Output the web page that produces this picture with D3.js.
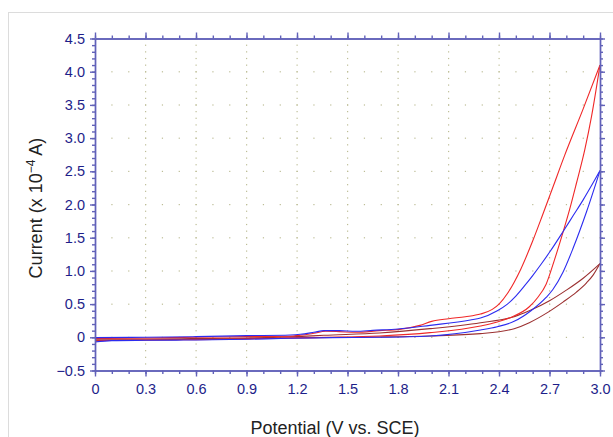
<!DOCTYPE html>
<html>
<head>
<meta charset="utf-8">
<script src="https://cdn.jsdelivr.net/npm/d3@7"></script>
<style>
  body { margin: 0; background: #fff; }
  text { font-family: "Liberation Sans", Arial, sans-serif; }
</style>
</head>
<body>
<div id="chart"></div>
<script>
// tick values and labels
const xTicks = [0, 0.3, 0.6, 0.9, 1.2, 1.5, 1.8, 2.1, 2.4, 2.7, 3.0];
const xTickLabels = ["0", "0.3", "0.6", "0.9", "1.2", "1.5", "1.8", "2.1", "2.4", "2.7", "3.0"];
const yTicks = [-0.5, 0, 0.5, 1.0, 1.5, 2.0, 2.5, 3.0, 3.5, 4.0, 4.5];
const yTickLabels = ["\u22120.5", "0", "0.5", "1.0", "1.5", "2.0", "2.5", "3.0", "3.5", "4.0", "4.5"];

// [potential V, current x1e-4 A]
const redForward = [[0, -0.06], [0.1, -0.045], [0.3, -0.04], [0.6, -0.035], [0.9, -0.025], [1.15, -0.01], [1.4, 0.0],
  [1.69, 0.02], [1.99, 0.07], [2.29, 0.17], [2.39, 0.23], [2.47, 0.30], [2.58, 0.46], [2.63, 0.60], [2.68, 0.80],
  [2.73, 1.17], [2.78, 1.58], [2.82, 1.93], [2.86, 2.32], [2.91, 2.83], [2.95, 3.33], [3.0, 4.1]];
const redReverse = [[0, -0.02], [0.3, -0.01], [0.6, 0.0], [0.9, 0.01], [1.15, 0.015], [1.22, 0.03], [1.3, 0.06],
  [1.37, 0.09], [1.45, 0.085], [1.55, 0.075], [1.69, 0.10], [1.81, 0.12], [1.93, 0.18], [2.0, 0.24], [2.1, 0.28],
  [2.2, 0.31], [2.29, 0.35], [2.36, 0.42], [2.4, 0.5], [2.45, 0.66], [2.53, 1.03], [2.6, 1.45], [2.66, 1.85],
  [2.72, 2.26], [2.79, 2.74], [2.9, 3.44], [3.0, 4.1]];
const blueForward = [[0, -0.07], [0.1, -0.05], [0.3, -0.045], [0.6, -0.04], [0.9, -0.03], [1.15, -0.015], [1.4, -0.005],
  [1.69, 0.0], [1.99, 0.02], [2.29, 0.11], [2.39, 0.16], [2.49, 0.24], [2.59, 0.40], [2.68, 0.60], [2.72, 0.72],
  [2.78, 0.98], [2.84, 1.34], [2.92, 1.89], [3.0, 2.51]];
const blueReverse = [[0, -0.005], [0.3, 0.0], [0.6, 0.01], [0.9, 0.025], [1.16, 0.035], [1.22, 0.045], [1.3, 0.075],
  [1.36, 0.10], [1.45, 0.10], [1.55, 0.09], [1.65, 0.105], [1.8, 0.125], [1.99, 0.18], [2.23, 0.26], [2.29, 0.29],
  [2.39, 0.40], [2.45, 0.50], [2.5, 0.62], [2.55, 0.77], [2.6, 0.93], [2.65, 1.10], [2.7, 1.28], [2.78, 1.59],
  [2.84, 1.83], [2.9, 2.07], [2.96, 2.33], [3.0, 2.51]];
const brownForward = [[0, -0.05], [0.3, -0.04], [0.6, -0.03], [0.9, -0.02], [1.2, -0.01], [1.5, 0.0], [1.69, 0.005],
  [1.99, 0.02], [2.29, 0.055], [2.49, 0.13], [2.58, 0.22], [2.68, 0.36], [2.78, 0.53], [2.86, 0.68], [2.92, 0.82],
  [2.96, 0.94], [3.0, 1.11]];
const brownReverse = [[0, -0.03], [0.3, -0.025], [0.6, -0.02], [0.9, -0.01], [1.2, 0.01], [1.36, 0.03], [1.69, 0.065],
  [1.99, 0.13], [2.29, 0.22], [2.49, 0.31], [2.59, 0.41], [2.7, 0.55], [2.8, 0.71], [2.9, 0.89], [3.0, 1.11]];

const seriesColors = ["#9b3030", "#f02828", "#2c2cf0"];
const series = [
  [brownForward, brownReverse],
  [redForward, redReverse],
  [blueForward, blueReverse]
];

let svg = d3
  .select("#chart")
  .append("svg")
  .attr("width", 613)
  .attr("height", 437);

// light outer frame
svg.append("rect")
  .attr("x", 8.5).attr("y", 12.5)
  .attr("width", 640).attr("height", 460)
  .attr("fill", "none")
  .attr("stroke", "#dcdcdc");

var x = d3.scaleLinear().domain([0, 3]).range([95, 600]);
var y = d3.scaleLinear().domain([-0.5, 4.5]).range([370.5, 38.5]);

var xMinor = d3.range(0, 31).map(i => i / 10);
var yMinor = d3.range(-5, 46).map(i => i / 10);

// dotted grid
let grid = svg.append("g").attr("fill", "#bdbd96");
xTicks.slice(1, -1).forEach(xv => {
  yMinor.forEach(yv => {
    grid.append("rect").attr("x", x(xv) - 0.5).attr("y", y(yv) - 0.5).attr("width", 1.2).attr("height", 1.2);
  });
});
yTicks.slice(1, -1).forEach(yv => {
  xMinor.forEach(xv => {
    grid.append("rect").attr("x", x(xv) - 0.5).attr("y", y(yv) - 0.5).attr("width", 1.2).attr("height", 1.2);
  });
});

// curves
var line = d3.line()
  .x(d => x(d[0]))
  .y(d => y(d[1]))
  .curve(d3.curveMonotoneX);

series.forEach((s, i) => {
  s.forEach(branch => {
    svg.append("path")
      .datum(branch)
      .attr("fill", "none")
      .attr("stroke", seriesColors[i])
      .attr("stroke-width", 1.1)
      .attr("d", line);
  });
});

// axes
const axisColor = "#6161b8";
function styleAxis(g) {
  g.selectAll("path, line").attr("stroke", axisColor).attr("stroke-width", 1.4);
  g.selectAll("text")
    .attr("fill", "#1e1e8a")
    .style("font-size", "14.5px")
    .style("font-family", "'Liberation Sans', Arial, sans-serif");
}

svg.append("g").attr("transform", "translate(95,0)")
  .call(d3.axisLeft(y).tickValues(yMinor).tickSize(3).tickSizeOuter(0).tickFormat(""))
  .call(styleAxis);
svg.append("g").attr("transform", "translate(95,0)")
  .call(d3.axisLeft(y).tickValues(yTicks).tickSize(5).tickSizeOuter(0).tickPadding(5)
    .tickFormat((d, i) => yTickLabels[i]))
  .call(styleAxis);

svg.append("g").attr("transform", "translate(600,0)")
  .call(d3.axisRight(y).tickValues(yMinor).tickSize(3).tickSizeOuter(0).tickFormat(""))
  .call(styleAxis);
svg.append("g").attr("transform", "translate(600,0)")
  .call(d3.axisRight(y).tickValues(yTicks).tickSize(5).tickSizeOuter(0).tickFormat(""))
  .call(styleAxis);

svg.append("g").attr("transform", "translate(0,38.5)")
  .call(d3.axisTop(x).tickValues(xMinor).tickSize(3).tickSizeOuter(0).tickFormat(""))
  .call(styleAxis);
svg.append("g").attr("transform", "translate(0,38.5)")
  .call(d3.axisTop(x).tickValues(xTicks).tickSize(6).tickSizeOuter(0).tickFormat(""))
  .call(styleAxis);

svg.append("g").attr("transform", "translate(0,370.5)")
  .call(d3.axisBottom(x).tickValues(xMinor).tickSize(3.5).tickSizeOuter(0).tickFormat(""))
  .call(styleAxis);
svg.append("g").attr("transform", "translate(0,370.5)")
  .call(d3.axisBottom(x).tickValues(xTicks).tickSize(6).tickSizeOuter(0).tickPadding(7)
    .tickFormat((d, i) => xTickLabels[i]))
  .call(styleAxis);

// axis titles
svg.append("text")
  .attr("x", 335)
  .attr("y", 434)
  .attr("text-anchor", "middle")
  .attr("fill", "#222")
  .style("font-size", "18px")
  .text("Potential (V vs. SCE)");

let yTitle = svg.append("text")
  .attr("transform", "translate(42,208) rotate(-90)")
  .attr("text-anchor", "middle")
  .attr("fill", "#222")
  .style("font-size", "18px");
yTitle.append("tspan").text("Current (x 10");
yTitle.append("tspan").attr("dy", -7).style("font-size", "12px").text("\u22124");
yTitle.append("tspan").attr("dy", 7).text(" A)");
</script>
</body>
</html>
